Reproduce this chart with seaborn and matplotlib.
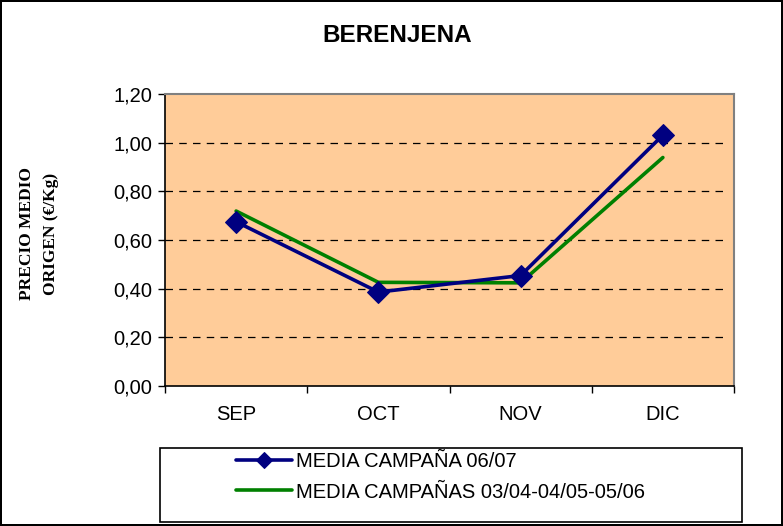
import matplotlib
matplotlib.use("Agg")
import matplotlib.pyplot as plt
import seaborn as sns
import pandas as pd
from matplotlib.patches import Rectangle
from matplotlib.ticker import FixedLocator, FuncFormatter

months = ["SEP", "OCT", "NOV", "DIC"]
media_0607 = [0.675, 0.386, 0.454, 1.031]
media_prev = [0.719, 0.426, 0.424, 0.939]
label_0607 = "MEDIA CAMPAÑA 06/07"
label_prev = "MEDIA CAMPAÑAS 03/04-04/05-05/06"

df = pd.DataFrame({
    "mes": months * 2,
    "precio": media_0607 + media_prev,
    "serie": [label_0607] * 4 + [label_prev] * 4,
})

sns.set_style("white")
plt.rcParams["font.family"] = ["Liberation Sans", "DejaVu Sans"]
plt.rcParams["text.color"] = "black"
plt.rcParams["xtick.color"] = "black"
plt.rcParams["ytick.color"] = "black"
plt.rcParams["xtick.labelcolor"] = "black"
plt.rcParams["ytick.labelcolor"] = "black"

fig = plt.figure(figsize=(7.83, 5.26), dpi=100)
fig.patch.set_facecolor("white")
fig.patch.set_edgecolor("black")
fig.patch.set_linewidth(1.5)

ax = fig.add_axes([165 / 783, 1 - 386 / 526, (734 - 165) / 783, (386 - 94) / 526])
ax.set_facecolor("#FFCC99")

# draw green first so blue is on top
sns.lineplot(data=df[df.serie == label_prev], x="mes", y="precio", ax=ax,
             color="#008000", linewidth=2.6, label=label_prev, sort=False)
sns.lineplot(data=df[df.serie == label_0607], x="mes", y="precio", ax=ax,
             color="#000080", linewidth=2.6, marker="D", markersize=11,
             markeredgecolor="#000080", label=label_0607, sort=False)

ax.set_xlim(-0.5, 3.5)
ax.set_ylim(0, 1.2)
yt = [0.0, 0.2, 0.4, 0.6, 0.8, 1.0, 1.2]
ax.yaxis.set_major_locator(FixedLocator(yt))
ax.yaxis.set_major_formatter(FuncFormatter(lambda v, p: f"{v:.2f}".replace(".", ",")))
ax.set_xticks(range(4))
ax.set_xticklabels(months)
ax.set_xticks([-0.5, 0.5, 1.5, 2.5, 3.5], minor=True)
ax.tick_params(axis="x", which="major", length=0, pad=14, labelsize=14.5)
ax.tick_params(axis="x", which="minor", length=5, width=1, color="black", direction="out", bottom=True)
ax.tick_params(axis="y", which="major", length=5, width=1, color="black", direction="out", left=True, labelsize=14.5, pad=4)

for y in yt[1:-1]:
    ax.plot([-0.5, 3.45], [y, y], color="black", linestyle=(0, (6, 5)), linewidth=0.9, zorder=1)

for side in ["top", "right"]:
    ax.spines[side].set_color("#808080")
    ax.spines[side].set_linewidth(1.5)
for side in ["left", "bottom"]:
    ax.spines[side].set_color("black")
    ax.spines[side].set_linewidth(1.2)
for side in ["left", "bottom", "top", "right"]:
    ax.spines[side].set_visible(True)

ax.set_xlabel("")
ax.set_ylabel("")

fig.text(397 / 783, 1 - 36 / 526, "BERENJENA", ha="center", va="center",
         fontsize=17.5, fontweight="bold", color="black")

fig.text(39 / 783, 1 - 234 / 526, "PRECIO MEDIO\nORIGEN (€/Kg)", rotation=90,
         ha="center", va="center", multialignment="center",
         fontsize=12.5, fontweight="bold", linespacing=1.6, color="black",
         family=["Liberation Serif", "DejaVu Serif"])

# legend box
fig.patches.append(Rectangle((160 / 783, 1 - 522 / 526), 582 / 783, 74 / 526,
                             transform=fig.transFigure, facecolor="white",
                             edgecolor="black", linewidth=1.2))
handles, labels = ax.get_legend_handles_labels()
order = [labels.index(label_0607), labels.index(label_prev)]
ax.get_legend().remove()
leg = fig.legend([handles[i] for i in order], [labels[i] for i in order],
                 loc="center left", bbox_to_anchor=(228 / 783, 1 - 477 / 526),
                 frameon=False, fontsize=14.5, handlelength=2.8, handletextpad=0.2,
                 labelspacing=0.55, borderaxespad=0, markerscale=0.75)
for t in leg.get_texts():
    t.set_color("black")

fig.savefig("out.png", dpi=100)
